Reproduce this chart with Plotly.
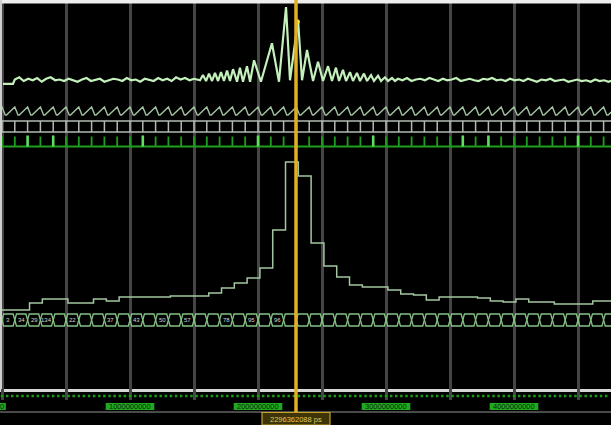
import numpy as np
import plotly.graph_objects as go

FIG_W, FIG_H = 611, 425

# ---------------- time axis (ps) ----------------
t_range = [-1.5625e7, 4.7578125e9]
grid_dtick = 0.5e9
ruler_minor = 0.04e9
ruler_ticks = [0.0, 1e9, 2e9, 3e9, 4e9]
ruler_texts = ["0", "1000000000", "2000000000", "3000000000", "4000000000"]
clock_period = 1e8
n_cycles = 48
cursor_time = 2.296875e9
cursor_text = "2296362088 ps"

# ---------------- analog waveform (top lane) ----------------
analog_head_t = [0.0078e9, 0.0859e9]
analog_head_v = [-0.04, -0.04]
noise_left_start = 0.10e9
noise_step = 0.035e9
noise_left_v = [0.02, 0.05, 0.00, 0.03, 0.01, 0.04, -0.01, 0.03, 0.05, 0.01,
                0.02, 0.00, 0.03, 0.01, -0.01, 0.02, 0.04, 0.00, 0.02, 0.03,
                -0.01, 0.01, 0.03, 0.02, 0.00, 0.04, 0.01, 0.02, -0.01, 0.03,
                0.02, 0.00, 0.04, 0.01, 0.03, 0.00, 0.05, 0.02, 0.04, 0.01, 0.03]
burst_t = [1.547, 1.570, 1.594, 1.617, 1.641, 1.664, 1.688, 1.711, 1.734, 1.758,
           1.781, 1.805, 1.836, 1.859, 1.883, 1.914, 1.938, 1.969, 2.023, 2.109,
           2.164, 2.219, 2.250, 2.313, 2.344, 2.383, 2.430, 2.469, 2.508, 2.547,
           2.578, 2.609, 2.633, 2.664, 2.688, 2.719, 2.742, 2.773, 2.797, 2.828,
           2.852, 2.883, 2.906, 2.938, 2.961, 2.992, 3.016, 3.047, 3.070]
burst_v = [0.01, 0.08, 0.0, 0.10, 0.0, 0.11, 0.0, 0.12, 0.0, 0.14,
           0.0, 0.16, -0.01, 0.18, -0.01, 0.20, -0.01, 0.28, -0.01, 0.51,
           -0.01, 1.0, 0.01, 0.82, 0.01, 0.42, 0.0, 0.26, 0.0, 0.20,
           0.0, 0.18, 0.0, 0.15, 0.0, 0.12, 0.0, 0.11, 0.0, 0.10,
           0.0, 0.08, 0.0, 0.07, 0.0, 0.05, 0.0, 0.04, 0.0]
noise_right_start = 3.094e9
noise_right_v = [0.03, 0.01, 0.04, 0.00, 0.02, 0.03, 0.01, 0.04, 0.02, 0.00,
                 0.03, 0.01, 0.02, 0.04, 0.00, 0.02, 0.03, 0.01, 0.00, 0.03,
                 0.02, 0.04, 0.01, 0.02, 0.00, 0.03, 0.01, 0.02, 0.00, 0.03,
                 0.01, -0.01, 0.02, 0.01, 0.03, 0.00, 0.01, 0.02, -0.01, 0.01,
                 0.02, 0.00, 0.01, -0.01, 0.02, 0.00, 0.01, -0.01, 0.01]
cursor_mark_v = 0.80

# ---------------- green strobe lane ----------------
strobe_bright_cycles = [2, 4, 11, 20, 29, 36, 38, 45]

# ---------------- stepped magnitude lane ----------------
step_values = [2, 2, 9, 13, 13, 9, 9, 13, 11, 15,
               15, 15, 15, 16, 16, 16, 19, 24, 29, 34,
               44, 82, 150, 136, 69, 46, 35, 27, 25, 25,
               22, 18, 17, 12, 15, 15, 15, 14, 11, 10,
               13, 10, 10, 8, 8, 8, 11, 11]
step_shift = 0.15  # fraction of a clock period

# ---------------- bus lane ----------------
bus_label_cells = [0, 1, 2, 3, 5, 8, 10, 12, 14, 17, 19, 21]
bus_label_texts = ["3", "34", "29", "134", "22", "37", "43", "50", "57", "78", "95", "96"]

# ---------------- styling ----------------
BG = "#000000"
C_ANALOG = "#c4f0bc"
C_SAW = "#a3c3a0"
C_IBEAM = "#b2bab2"
C_STROBE = "#1f9f1f"
C_STROBE_HI = "#5ee05e"
C_STEP = "#a2c6a0"
C_BUS = "#86c286"
C_GRID = "#454545"
C_CURSOR = "#e3ae24"


def fy(px):
    return 1 - px / FIG_H


lanes = {
    "y": (0, 92, [-0.1486, 1.0946]),
    "y2": (92, 117, [-0.25, 2.875]),
    "y3": (117, 134, [-0.1818, 1.3636]),
    "y4": (134, 150, [-0.35, 1.25]),
    "y5": (150, 312, [0, 162]),
    "y6": (312, 330, [-0.3333, 1.1667]),
    "y7": (330, 389, [0, 1]),
    "y8": (389, 400, [-4, 7]),
}

P = clock_period
edges = [k * P for k in range(n_cycles + 1)]

fig = go.Figure()

# analog trace
a_t = list(analog_head_t)
a_v = list(analog_head_v)
a_t += [noise_left_start + i * noise_step for i in range(len(noise_left_v))]
a_v += noise_left_v
a_t += [t * 1e9 for t in burst_t]
a_v += burst_v
a_t += [noise_right_start + i * noise_step for i in range(len(noise_right_v))]
a_v += noise_right_v
fig.add_trace(go.Scatter(x=a_t, y=a_v, mode="lines", yaxis="y",
                         line=dict(color=C_ANALOG, width=2.2)))
fig.add_trace(go.Scatter(x=[cursor_time + 0.01e9], y=[cursor_mark_v], mode="markers", yaxis="y",
                         marker=dict(color="#f4e84a", size=5, symbol="circle")))

# sawtooth lane
sx, sy = [], []
for k in range(-1, n_cycles + 1):
    tk = k * P
    sx += [tk - 0.65 * P, tk, tk + 0.25 * P]
    sy += [0, 1, 0]
fig.add_trace(go.Scatter(x=sx, y=sy, mode="lines", yaxis="y2",
                         line=dict(color=C_SAW, width=1.4)))

# I-beam lane
ix, iy = [t_range[0], t_range[1], None, t_range[0], t_range[1], None], [1, 1, None, 0, 0, None]
for tk in edges:
    ix += [tk, tk, None]
    iy += [0, 1, None]
fig.add_trace(go.Scatter(x=ix, y=iy, mode="lines", yaxis="y3",
                         line=dict(color=C_IBEAM, width=1.5)))

# strobe lane
gx, gy = [t_range[0], t_range[1], None], [0, 0, None]
for k, tk in enumerate(edges):
    if k not in strobe_bright_cycles:
        gx += [tk, tk, None]
        gy += [0, 1, None]
fig.add_trace(go.Scatter(x=gx, y=gy, mode="lines", yaxis="y4",
                         line=dict(color=C_STROBE, width=1.8)))
bx, by = [], []
for k in strobe_bright_cycles:
    bx += [edges[k], edges[k], None]
    by += [0, 1.1, None]
fig.add_trace(go.Scatter(x=bx, y=by, mode="lines", yaxis="y4",
                         line=dict(color=C_STROBE_HI, width=2.6)))

# stepped magnitude lane
st_x = [0.0] + [k * P + step_shift * P for k in range(1, len(step_values))] + [t_range[1]]
st_y = list(step_values) + [step_values[-1]]
fig.add_trace(go.Scatter(x=st_x, y=st_y, mode="lines", yaxis="y5", line_shape="hv",
                         line=dict(color=C_STEP, width=1.5)))

# bus lane (cells with crossing transitions)
d = 0.013e9
hx, hy = [], []
for k in range(-1, n_cycles):
    a, b = k * P, (k + 1) * P
    hx += [a, a + d, b - d, b, b - d, a + d, a, None]
    hy += [0.5, 1, 1, 0.5, 0, 0, 0.5, None]
fig.add_trace(go.Scatter(x=hx, y=hy, mode="lines", yaxis="y6",
                         line=dict(color=C_BUS, width=1.3)))

# dummy for lower empty lane
fig.add_trace(go.Scatter(x=[0], y=[-5], mode="markers", yaxis="y7",
                         marker=dict(opacity=0)))

# ruler dots
r_t = list(np.arange(0, t_range[1], ruler_minor))
fig.add_trace(go.Scatter(x=r_t, y=[0] * len(r_t), mode="markers", yaxis="y8",
                         marker=dict(color="#1a9a1a", size=2.5, symbol="square")))

shapes = []
annotations = []

# ruler labels
for tv, txt in zip(ruler_ticks, ruler_texts):
    hw = 0.19e9 if len(txt) > 1 else 0.03e9
    shapes.append(dict(type="rect", xref="x", yref="paper", x0=tv - hw, x1=tv + hw,
                       y0=fy(410), y1=fy(403), fillcolor="#21a821", line=dict(width=0),
                       layer="above"))
    annotations.append(dict(x=tv, y=fy(406.5), xref="x", yref="paper", text=txt,
                            yanchor="middle", borderpad=0, showarrow=False,
                            font=dict(size=7.5, color="#062a06", family="Liberation Sans")))

# bus labels
for c, txt in zip(bus_label_cells, bus_label_texts):
    annotations.append(dict(x=(c + 0.5) * P, y=0.5, xref="x", yref="y6", text=txt,
                            showarrow=False, font=dict(size=6, color="#d0d8d0",
                                                       family="Liberation Sans")))

# frame decorations
shapes.append(dict(type="rect", xref="paper", yref="paper", x0=0, x1=1, y0=fy(3.5), y1=1,
                   fillcolor="#eeeeee", line=dict(width=0), layer="above"))
shapes.append(dict(type="rect", xref="paper", yref="paper", x0=0, x1=2 / FIG_W, y0=fy(389), y1=1,
                   fillcolor="#cfcfcf", line=dict(width=0), layer="above"))
shapes.append(dict(type="line", xref="paper", yref="paper", x0=0, x1=1, y0=fy(412), y1=fy(412),
                   line=dict(color="#4a4a4a", width=2), layer="above"))

# cursor
shapes.append(dict(type="line", xref="x", yref="paper", x0=cursor_time, x1=cursor_time,
                   y0=fy(412), y1=1, line=dict(color=C_CURSOR, width=3.5), layer="above"))
cw = 0.2656e9
shapes.append(dict(type="rect", xref="x", yref="paper", x0=cursor_time - cw, x1=cursor_time + cw,
                   y0=fy(425), y1=fy(412.5), fillcolor="#3d3508",
                   line=dict(color="#c9a227", width=1.2), layer="above"))
annotations.append(dict(x=cursor_time, y=fy(424.5), xref="x", yref="paper", text=cursor_text,
                        yanchor="bottom", borderpad=0, showarrow=False,
                        font=dict(size=7.5, color="#e6c650", family="Liberation Sans")))

layout = dict(
    width=FIG_W, height=FIG_H,
    margin=dict(l=0, r=0, t=0, b=0),
    paper_bgcolor=BG, plot_bgcolor=BG,
    showlegend=False, hovermode=False,
    shapes=shapes, annotations=annotations,
    xaxis=dict(range=t_range, tick0=0, dtick=grid_dtick, showgrid=True,
               gridcolor=C_GRID, gridwidth=2.5, zeroline=False,
               showticklabels=False, ticks="", anchor="y7",
               showline=True, linecolor="#d6d6d6", linewidth=3, fixedrange=True),
)
for name, (top, bot, rng) in lanes.items():
    key = "yaxis" if name == "y" else "yaxis" + name[1:]
    layout[key] = dict(domain=[fy(bot), fy(top)], range=rng, anchor="x",
                       showgrid=False, zeroline=False, showticklabels=False,
                       ticks="", showline=False, fixedrange=True)

fig.update_layout(**layout)
fig.write_html("out.html", config={"displayModeBar": False},
               post_script="document.body.style.margin='0';document.body.style.background='#000';")
